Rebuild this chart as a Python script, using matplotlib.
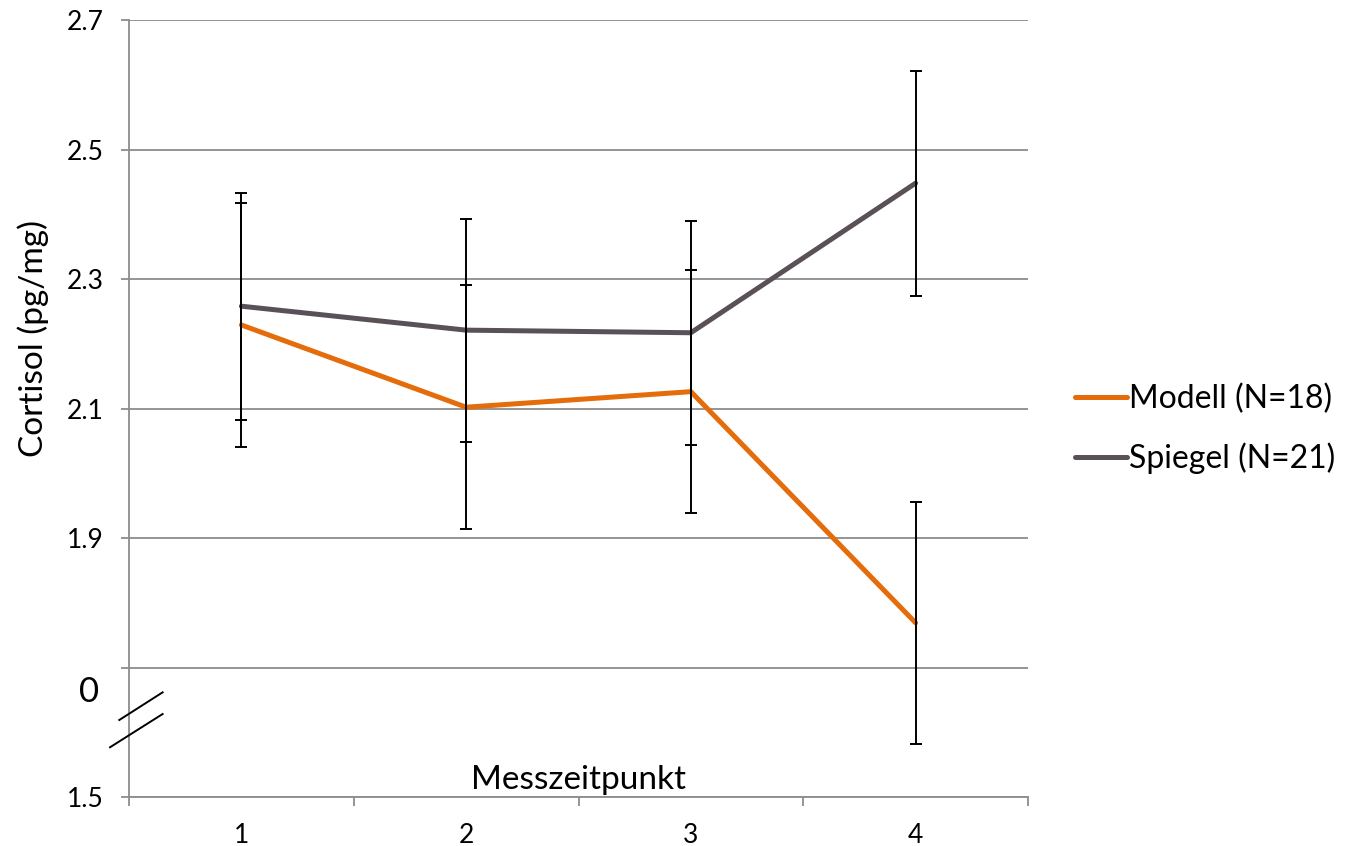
import matplotlib.pyplot as plt
from matplotlib.lines import Line2D

# data
zeitpunkte = [1, 2, 3, 4]
modell = [2.229, 2.102, 2.126, 1.769]
modell_err = [0.188, 0.188, 0.188, 0.187]
spiegel = [2.258, 2.221, 2.217, 2.448]
spiegel_err = [0.175, 0.172, 0.173, 0.174]

y_ticks = [1.5, 1.7, 1.9, 2.1, 2.3, 2.5, 2.7]
y_labels = ['1.5', '', '1.9', '2.1', '2.3', '2.5', '2.7']
x_labels = ['1', '2', '3', '4']

ORANGE = '#E46C0A'
GRAU = '#595157'
GRID = '#8C8C8C'

plt.rcParams['font.family'] = ['Lato', 'DejaVu Sans']

fig = plt.figure(figsize=(13.53, 8.46), dpi=100)
ax = fig.add_axes([129 / 1353, 1 - 797 / 846, 899 / 1353, 777 / 846])

ax.set_ylim(1.5, 2.7)
ax.set_xlim(0.5, 4.5)

# horizontal gridlines
ax.set_yticks(y_ticks)
ax.set_yticklabels(y_labels, fontsize=19)
ax.yaxis.grid(True, color=GRID, linewidth=1.3)
ax.set_axisbelow(True)

# category boundary ticks, labels in between
ax.set_xticks([0.5, 1.5, 2.5, 3.5, 4.5])
ax.set_xticklabels([''] * 5)
ax.set_xticks(zeitpunkte, minor=True)
ax.set_xticklabels(x_labels, minor=True, fontsize=19)
ax.tick_params(axis='x', which='major', length=6.5, width=1.3, color=GRID)
ax.tick_params(axis='x', which='minor', length=0, pad=19)
ax.tick_params(axis='y', length=6, width=1.3, color=GRID, pad=12)

for side in ['top', 'right']:
    ax.spines[side].set_visible(False)
for side in ['left', 'bottom']:
    ax.spines[side].set_color(GRID)
    ax.spines[side].set_linewidth(1.3)

ax.plot(zeitpunkte, modell, color=ORANGE, linewidth=3.6,
        solid_capstyle='round', label='Modell (N=18)', zorder=3)
ax.plot(zeitpunkte, spiegel, color=GRAU, linewidth=3.6,
        solid_capstyle='round', label='Spiegel (N=21)', zorder=3)

ax.errorbar(zeitpunkte, modell, yerr=modell_err, fmt='none', ecolor='black',
            elinewidth=1.4, capsize=4.3, capthick=1.4, zorder=4)
ax.errorbar(zeitpunkte, spiegel, yerr=spiegel_err, fmt='none', ecolor='black',
            elinewidth=1.4, capsize=4.3, capthick=1.4, zorder=4)

# axis break marks and the "0" label
for (x0, y0), (x1, y1) in [((-0.0211, 0.0640), (0.0374, 0.1068)),
                           ((-0.0108, 0.0991), (0.0374, 0.1347))]:
    ax.add_line(Line2D([x0, x1], [y0, y1], transform=ax.transAxes,
                       color='black', linewidth=1.4, clip_on=False, zorder=5))
ax.text(-0.0333, 1.662, '0', transform=ax.get_yaxis_transform(),
        ha='right', va='center', fontsize=25)

ax.text(0.5, 0.022, 'Messzeitpunkt', transform=ax.transAxes,
        ha='center', va='center', fontsize=24)
fig.text(33 / 1353, 1 - 338 / 846, 'Cortisol (pg/mg)', rotation=90,
         ha='center', va='center', fontsize=24)

ax.legend(loc='center left', bbox_to_anchor=(1.052, 0.474), frameon=False,
          fontsize=23, handlelength=1.65, handletextpad=0.05,
          labelspacing=0.9, borderpad=0, borderaxespad=0)

fig.savefig('out.png', dpi=100, facecolor='white')
